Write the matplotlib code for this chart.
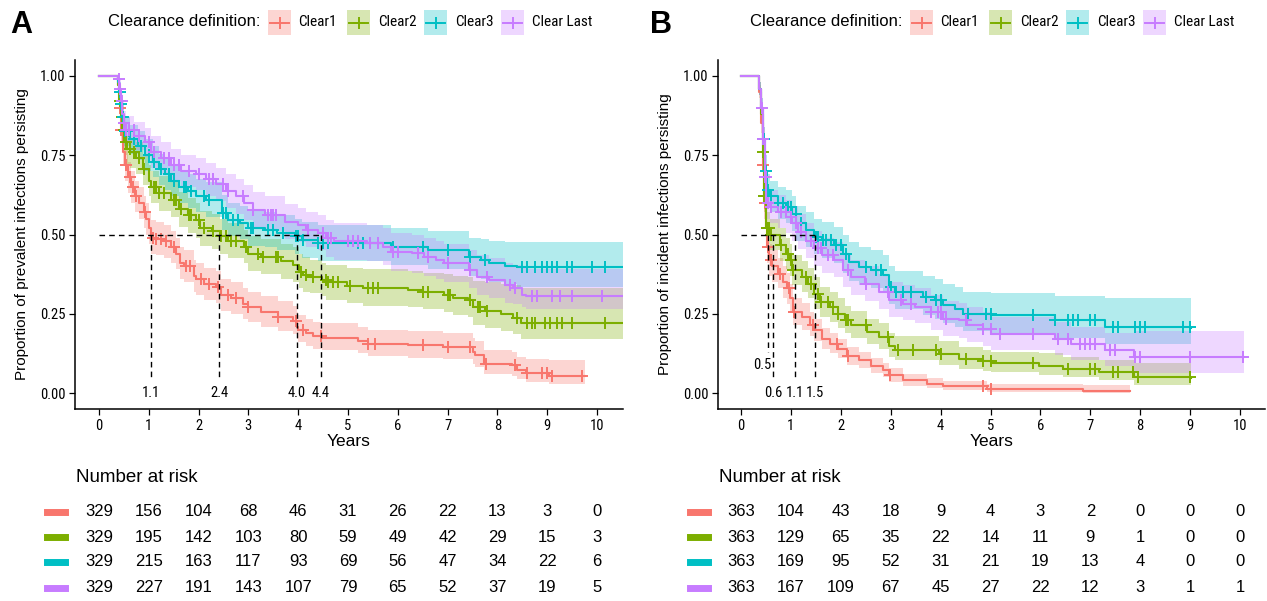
import os
import matplotlib
matplotlib.use("Agg")
import matplotlib.pyplot as plt
import matplotlib.transforms as mtransforms
from matplotlib import font_manager
from matplotlib.font_manager import FontProperties
from matplotlib.patches import Rectangle
from matplotlib.lines import Line2D
import numpy as np

W, H = 1267, 601

plt.rcParams['font.family'] = ['Liberation Sans', 'DejaVu Sans']

# the tick labels in the original are set in a narrow face; use one if there is any
cond_file, cond_size = None, 9
font_files = [f.fname for f in font_manager.fontManager.ttflist]
for key, size in [('liberationsansnarrow-regular', 11), ('robotocondensed-regular', 10.5),
                  ('robotocondensed[', 10.5), ('dejavusanscondensed.ttf', 9.5)]:
    hits = [fn for fn in font_files if key in os.path.basename(fn).lower()]
    if hits:
        cond_file, cond_size = hits[0], size
        break


def narrow(size=None):
    size = size or cond_size
    if cond_file:
        return FontProperties(fname=cond_file, size=size)
    return FontProperties(family=['Liberation Sans', 'DejaVu Sans'], size=size * 0.9)


groups = ['Clear1', 'Clear2', 'Clear3', 'Clear Last']
colors = ['#F8766D', '#7CAE00', '#00BFC4', '#C77CFF']
years = list(range(11))

# ---------- panel A: prevalent infections ----------
a1_t = [0, 0.38, 0.42, 0.45, 0.48, 0.52, 0.58, 0.65, 0.72, 0.80, 0.90, 0.95, 1.00, 1.05, 1.15, 1.30, 1.45, 1.55, 1.62, 1.70, 1.90, 1.95, 2.10, 2.35, 2.45, 2.65, 2.90, 3.00, 3.25, 3.60, 3.90, 3.97, 4.00, 4.15, 4.30, 4.48, 5.20, 5.40, 6.20, 6.90, 7.50, 7.55, 7.72, 8.30, 8.40, 8.57, 9.03, 9.76]
a1_s = [1.00, 0.97, 0.90, 0.83, 0.76, 0.72, 0.68, 0.65, 0.62, 0.60, 0.57, 0.55, 0.52, 0.49, 0.485, 0.478, 0.46, 0.44, 0.41, 0.40, 0.37, 0.36, 0.345, 0.333, 0.31, 0.30, 0.28, 0.27, 0.256, 0.24, 0.228, 0.21, 0.20, 0.19, 0.18, 0.175, 0.165, 0.156, 0.151, 0.146, 0.13, 0.12, 0.093, 0.088, 0.072, 0.063, 0.054, 0.054]
a1_lo = [1.00, 0.95, 0.87, 0.79, 0.72, 0.67, 0.63, 0.60, 0.57, 0.55, 0.52, 0.50, 0.47, 0.44, 0.435, 0.425, 0.41, 0.39, 0.36, 0.35, 0.32, 0.31, 0.295, 0.285, 0.26, 0.25, 0.235, 0.225, 0.21, 0.195, 0.185, 0.17, 0.16, 0.15, 0.14, 0.135, 0.125, 0.118, 0.112, 0.107, 0.093, 0.083, 0.06, 0.055, 0.043, 0.036, 0.028, 0.028]
a1_hi = [1.00, 0.99, 0.93, 0.87, 0.81, 0.77, 0.73, 0.70, 0.67, 0.65, 0.62, 0.60, 0.57, 0.545, 0.54, 0.53, 0.51, 0.49, 0.46, 0.45, 0.42, 0.41, 0.395, 0.385, 0.36, 0.35, 0.33, 0.32, 0.305, 0.29, 0.275, 0.255, 0.245, 0.235, 0.225, 0.22, 0.21, 0.20, 0.195, 0.19, 0.175, 0.165, 0.135, 0.13, 0.115, 0.108, 0.105, 0.105]
a1_cens = [0.42, 0.45, 0.47, 0.55, 0.62, 0.68, 0.75, 0.93, 1.08, 1.15, 1.25, 1.35, 1.5, 1.75, 1.82, 2.05, 2.2, 2.4, 2.6, 2.75, 3.0, 3.6, 3.95, 4.1, 4.45, 5.4, 5.55, 6.5, 7.0, 7.45, 7.78, 8.35, 8.6, 8.9, 9.0, 9.1, 9.7]

a2_t = [0, 0.38, 0.41, 0.44, 0.47, 0.51, 0.57, 0.63, 0.75, 0.88, 1.00, 1.04, 1.20, 1.45, 1.61, 1.78, 1.94, 2.02, 2.27, 2.43, 2.60, 2.92, 3.00, 3.25, 3.66, 3.90, 4.02, 4.10, 4.23, 4.48, 4.56, 4.97, 5.30, 6.20, 6.50, 6.93, 7.10, 7.40, 7.50, 7.75, 8.07, 8.32, 8.48, 10.52]
a2_s = [1.00, 0.97, 0.92, 0.87, 0.83, 0.79, 0.77, 0.76, 0.74, 0.705, 0.67, 0.65, 0.63, 0.61, 0.58, 0.56, 0.546, 0.52, 0.51, 0.494, 0.478, 0.462, 0.44, 0.43, 0.415, 0.404, 0.383, 0.372, 0.367, 0.357, 0.35, 0.338, 0.33, 0.325, 0.32, 0.31, 0.30, 0.295, 0.27, 0.26, 0.25, 0.238, 0.222, 0.222]
a2_lo = [1.00, 0.95, 0.89, 0.83, 0.79, 0.75, 0.72, 0.71, 0.69, 0.655, 0.62, 0.60, 0.575, 0.555, 0.525, 0.505, 0.49, 0.465, 0.455, 0.44, 0.425, 0.41, 0.385, 0.375, 0.36, 0.35, 0.33, 0.32, 0.315, 0.305, 0.295, 0.285, 0.275, 0.27, 0.265, 0.255, 0.245, 0.24, 0.215, 0.205, 0.195, 0.185, 0.17, 0.17]
a2_hi = [1.00, 0.99, 0.95, 0.91, 0.87, 0.83, 0.81, 0.80, 0.79, 0.755, 0.72, 0.70, 0.685, 0.665, 0.635, 0.615, 0.60, 0.575, 0.565, 0.55, 0.535, 0.515, 0.495, 0.485, 0.47, 0.46, 0.44, 0.43, 0.42, 0.41, 0.405, 0.395, 0.39, 0.385, 0.38, 0.375, 0.37, 0.365, 0.355, 0.35, 0.345, 0.34, 0.33, 0.33]
a2_cens = [0.43, 0.46, 0.5, 0.55, 0.62, 0.7, 0.8, 0.9, 1.1, 1.15, 1.2, 1.3, 1.5, 1.55, 1.65, 1.8, 1.85, 2.0, 2.1, 2.3, 2.45, 2.55, 2.65, 2.75, 2.95, 3.2, 3.3, 3.55, 3.6, 4.05, 4.15, 4.3, 4.55, 4.6, 4.7, 4.8, 5.05, 5.4, 5.5, 5.6, 6.5, 6.6, 7.0, 7.05, 7.45, 7.6, 7.65, 7.8, 8.4, 8.6, 8.7, 8.75, 8.95, 9.05, 9.2, 9.3, 9.5, 10.15]

a3_t = [0, 0.38, 0.41, 0.44, 0.47, 0.51, 0.63, 0.79, 0.92, 1.08, 1.20, 1.33, 1.45, 1.61, 1.78, 1.94, 2.14, 2.47, 2.60, 2.84, 3.00, 3.33, 3.58, 3.94, 4.07, 4.39, 5.87, 6.60, 7.42, 7.67, 7.83, 8.16, 8.40, 10.52]
a3_s = [1.00, 0.98, 0.95, 0.91, 0.87, 0.825, 0.80, 0.78, 0.75, 0.73, 0.705, 0.69, 0.67, 0.65, 0.637, 0.62, 0.61, 0.567, 0.546, 0.536, 0.52, 0.515, 0.504, 0.494, 0.483, 0.473, 0.462, 0.452, 0.43, 0.42, 0.41, 0.40, 0.398, 0.398]
a3_lo = [1.00, 0.96, 0.92, 0.88, 0.83, 0.78, 0.755, 0.735, 0.70, 0.68, 0.655, 0.64, 0.62, 0.60, 0.585, 0.57, 0.555, 0.515, 0.495, 0.485, 0.465, 0.46, 0.45, 0.44, 0.425, 0.415, 0.405, 0.39, 0.37, 0.36, 0.35, 0.345, 0.335, 0.335]
a3_hi = [1.00, 1.00, 0.98, 0.95, 0.91, 0.87, 0.845, 0.825, 0.80, 0.78, 0.755, 0.74, 0.72, 0.70, 0.69, 0.675, 0.665, 0.625, 0.60, 0.59, 0.575, 0.57, 0.56, 0.55, 0.54, 0.53, 0.52, 0.51, 0.49, 0.485, 0.48, 0.475, 0.475, 0.475]
a3_cens = [0.43, 0.45, 0.48, 0.52, 0.6, 0.7, 0.85, 1.0, 1.1, 1.25, 1.4, 1.5, 1.7, 1.75, 1.85, 2.1, 2.2, 2.5, 2.55, 2.7, 2.8, 3.05, 3.1, 3.4, 3.5, 3.7, 3.95, 4.0, 4.1, 4.4, 4.5, 4.6, 5.2, 5.3, 5.45, 5.9, 6.5, 7.0, 7.45, 7.75, 8.5, 8.6, 8.75, 8.9, 9.0, 9.1, 9.2, 9.4, 9.5, 9.9, 10.15]

a4_t = [0, 0.38, 0.41, 0.44, 0.47, 0.50, 0.55, 0.71, 0.92, 1.04, 1.24, 1.45, 1.65, 1.94, 2.14, 2.35, 2.55, 2.76, 2.92, 3.09, 3.33, 3.74, 3.99, 4.15, 4.39, 4.56, 4.72, 5.38, 5.70, 5.87, 6.28, 6.52, 6.77, 6.93, 7.42, 7.59, 7.83, 8.16, 8.32, 8.49, 8.57, 10.52]
a4_s = [1.00, 0.99, 0.96, 0.92, 0.88, 0.85, 0.83, 0.81, 0.79, 0.76, 0.74, 0.72, 0.70, 0.69, 0.674, 0.658, 0.637, 0.62, 0.60, 0.578, 0.562, 0.54, 0.53, 0.515, 0.504, 0.488, 0.478, 0.473, 0.462, 0.446, 0.441, 0.43, 0.42, 0.41, 0.388, 0.367, 0.357, 0.34, 0.33, 0.31, 0.305, 0.305]
a4_lo = [1.00, 0.97, 0.93, 0.89, 0.84, 0.81, 0.785, 0.765, 0.745, 0.71, 0.69, 0.67, 0.65, 0.64, 0.62, 0.605, 0.585, 0.565, 0.545, 0.525, 0.51, 0.485, 0.475, 0.46, 0.45, 0.43, 0.42, 0.415, 0.405, 0.385, 0.38, 0.37, 0.36, 0.35, 0.33, 0.31, 0.30, 0.285, 0.28, 0.27, 0.265, 0.265]
a4_hi = [1.00, 1.00, 0.99, 0.95, 0.92, 0.89, 0.875, 0.855, 0.835, 0.81, 0.79, 0.77, 0.75, 0.74, 0.725, 0.71, 0.69, 0.675, 0.655, 0.635, 0.62, 0.595, 0.585, 0.57, 0.56, 0.545, 0.535, 0.53, 0.52, 0.505, 0.50, 0.49, 0.48, 0.47, 0.45, 0.435, 0.425, 0.41, 0.405, 0.395, 0.39, 0.39]
a4_cens = [0.40, 0.43, 0.46, 0.5, 0.55, 0.6, 0.7, 0.8, 1.0, 1.1, 1.3, 1.4, 1.5, 1.6, 1.8, 2.0, 2.2, 2.3, 2.5, 2.6, 2.9, 3.1, 3.4, 3.45, 3.5, 3.55, 4.2, 4.5, 4.6, 4.65, 5.0, 5.1, 5.2, 5.45, 5.6, 5.9, 6.0, 6.4, 6.6, 7.0, 7.45, 7.8, 8.25, 8.35, 8.7, 8.8, 9.1, 9.25, 9.5, 10.1]

a_medians = [1.05, 2.42, 3.97, 4.45]
a_median_labels = ['1.1', '2.4', '4.0', '4.4']
a_risk = [
    [329, 156, 104, 68, 46, 31, 26, 22, 13, 3, 0],
    [329, 195, 142, 103, 80, 59, 49, 42, 29, 15, 3],
    [329, 215, 163, 117, 93, 69, 56, 47, 34, 22, 6],
    [329, 227, 191, 143, 107, 79, 65, 52, 37, 19, 5],
]

# ---------- panel B: incident infections ----------
b1_t = [0, 0.36, 0.40, 0.44, 0.47, 0.50, 0.53, 0.56, 0.62, 0.75, 0.85, 0.92, 0.99, 1.05, 1.23, 1.39, 1.47, 1.63, 1.79, 1.95, 2.12, 2.36, 2.60, 2.84, 2.96, 3.24, 3.72, 4.05, 4.93, 6.86, 7.42, 7.80]
b1_s = [1.0, 0.95, 0.85, 0.72, 0.60, 0.52, 0.46, 0.42, 0.40, 0.377, 0.35, 0.33, 0.30, 0.256, 0.24, 0.214, 0.198, 0.17, 0.156, 0.14, 0.116, 0.103, 0.087, 0.072, 0.056, 0.04, 0.029, 0.021, 0.014, 0.008, 0.006, 0.006]
b1_lo = [1.0, 0.93, 0.82, 0.68, 0.55, 0.47, 0.41, 0.37, 0.35, 0.33, 0.30, 0.28, 0.26, 0.215, 0.20, 0.18, 0.165, 0.14, 0.125, 0.11, 0.09, 0.078, 0.064, 0.05, 0.036, 0.024, 0.015, 0.01, 0.005, 0.002, 0.001, 0.001]
b1_hi = [1.0, 0.97, 0.88, 0.76, 0.65, 0.57, 0.51, 0.47, 0.45, 0.425, 0.40, 0.38, 0.345, 0.30, 0.285, 0.255, 0.235, 0.205, 0.19, 0.17, 0.145, 0.13, 0.112, 0.095, 0.078, 0.06, 0.048, 0.038, 0.03, 0.026, 0.026, 0.026]
b1_cens = [0.45, 0.48, 0.52, 0.55, 0.6, 0.78, 0.97, 1.07, 1.45, 1.93, 2.15, 2.98, 4.85, 5.0]

b2_t = [0, 0.36, 0.40, 0.44, 0.47, 0.51, 0.59, 0.79, 0.91, 0.99, 1.03, 1.23, 1.35, 1.47, 1.59, 1.79, 1.95, 2.08, 2.20, 2.52, 2.76, 2.96, 3.08, 3.97, 4.37, 4.85, 5.01, 5.98, 6.46, 7.18, 7.87, 9.02]
b2_s = [1.0, 0.96, 0.88, 0.76, 0.62, 0.52, 0.50, 0.466, 0.44, 0.42, 0.387, 0.366, 0.345, 0.314, 0.287, 0.27, 0.25, 0.23, 0.214, 0.193, 0.177, 0.15, 0.137, 0.124, 0.108, 0.10, 0.095, 0.087, 0.077, 0.066, 0.05, 0.048]
b2_lo = [1.0, 0.94, 0.85, 0.72, 0.57, 0.47, 0.45, 0.415, 0.39, 0.37, 0.34, 0.32, 0.30, 0.265, 0.24, 0.225, 0.205, 0.19, 0.175, 0.155, 0.14, 0.115, 0.103, 0.09, 0.077, 0.07, 0.066, 0.058, 0.05, 0.04, 0.027, 0.025]
b2_hi = [1.0, 0.98, 0.91, 0.80, 0.67, 0.57, 0.55, 0.52, 0.49, 0.47, 0.435, 0.415, 0.395, 0.365, 0.335, 0.32, 0.30, 0.275, 0.26, 0.235, 0.22, 0.19, 0.18, 0.165, 0.145, 0.135, 0.13, 0.125, 0.115, 0.105, 0.095, 0.092]
b2_cens = [0.44, 0.47, 0.5, 0.53, 0.57, 0.6, 0.8, 0.95, 1.0, 1.05, 1.3, 1.4, 1.55, 1.6, 1.75, 1.85, 1.95, 2.1, 2.15, 2.5, 2.95, 3.15, 3.45, 3.9, 4.0, 4.5, 4.85, 5.0, 5.85, 6.55, 7.0, 7.1, 7.45, 7.55, 7.85, 7.95, 9.0]

b3_t = [0, 0.36, 0.40, 0.44, 0.48, 0.52, 0.59, 0.75, 0.91, 1.03, 1.11, 1.31, 1.47, 1.63, 1.87, 2.04, 2.16, 2.36, 2.60, 2.84, 2.96, 3.08, 3.64, 3.89, 4.05, 4.29, 4.45, 5.01, 6.30, 7.30, 9.02]
b3_s = [1.0, 0.96, 0.90, 0.80, 0.70, 0.64, 0.62, 0.60, 0.587, 0.566, 0.535, 0.514, 0.493, 0.482, 0.466, 0.44, 0.414, 0.398, 0.387, 0.372, 0.335, 0.319, 0.303, 0.293, 0.277, 0.266, 0.25, 0.245, 0.23, 0.208, 0.206]
b3_lo = [1.0, 0.94, 0.87, 0.76, 0.65, 0.59, 0.57, 0.55, 0.535, 0.51, 0.48, 0.46, 0.44, 0.425, 0.41, 0.38, 0.355, 0.34, 0.33, 0.315, 0.28, 0.265, 0.245, 0.235, 0.22, 0.21, 0.195, 0.19, 0.175, 0.155, 0.152]
b3_hi = [1.0, 0.98, 0.93, 0.84, 0.75, 0.69, 0.67, 0.65, 0.64, 0.62, 0.59, 0.57, 0.55, 0.54, 0.525, 0.50, 0.475, 0.46, 0.45, 0.435, 0.40, 0.385, 0.37, 0.36, 0.345, 0.335, 0.32, 0.315, 0.305, 0.30, 0.298]
b3_cens = [0.45, 0.47, 0.5, 0.55, 0.6, 0.75, 0.85, 0.95, 1.0, 1.1, 1.2, 1.5, 1.55, 1.65, 1.7, 1.8, 1.9, 2.0, 2.1, 2.5, 2.7, 2.8, 3.0, 3.1, 3.25, 3.4, 3.7, 3.9, 4.0, 4.55, 4.9, 5.0, 5.85, 6.3, 6.55, 6.65, 6.75, 7.0, 7.1, 7.45, 7.55, 7.9, 8.0, 8.1, 8.85, 9.0]

b4_t = [0, 0.36, 0.40, 0.44, 0.48, 0.51, 0.59, 0.75, 0.91, 1.03, 1.15, 1.31, 1.47, 1.63, 1.87, 2.04, 2.20, 2.48, 2.76, 2.96, 3.24, 3.48, 3.80, 4.05, 4.37, 4.53, 4.85, 5.01, 6.30, 6.62, 7.30, 7.87, 10.08]
b4_s = [1.0, 0.96, 0.90, 0.80, 0.68, 0.60, 0.587, 0.57, 0.556, 0.535, 0.508, 0.48, 0.456, 0.435, 0.419, 0.387, 0.366, 0.345, 0.319, 0.293, 0.282, 0.272, 0.256, 0.235, 0.229, 0.214, 0.203, 0.187, 0.172, 0.156, 0.135, 0.114, 0.114]
b4_lo = [1.0, 0.94, 0.87, 0.76, 0.63, 0.55, 0.535, 0.52, 0.505, 0.48, 0.455, 0.425, 0.40, 0.38, 0.365, 0.335, 0.31, 0.29, 0.265, 0.24, 0.23, 0.22, 0.20, 0.18, 0.175, 0.16, 0.15, 0.135, 0.12, 0.105, 0.085, 0.065, 0.065]
b4_hi = [1.0, 0.98, 0.93, 0.84, 0.73, 0.65, 0.64, 0.625, 0.61, 0.59, 0.565, 0.535, 0.51, 0.49, 0.475, 0.44, 0.42, 0.40, 0.375, 0.35, 0.34, 0.33, 0.31, 0.29, 0.285, 0.27, 0.255, 0.24, 0.225, 0.21, 0.19, 0.195, 0.195]
b4_cens = [0.42, 0.45, 0.48, 0.5, 0.55, 0.6, 0.8, 0.9, 1.0, 1.1, 1.2, 1.4, 1.55, 1.6, 1.75, 1.85, 2.15, 2.5, 2.95, 3.2, 3.4, 3.8, 3.95, 4.0, 4.1, 4.5, 4.85, 5.0, 5.2, 5.85, 6.35, 6.55, 6.8, 6.9, 7.0, 7.1, 7.4, 7.5, 7.9, 8.0, 9.0, 10.05]

b_medians = [0.54, 0.64, 1.09, 1.49]
b_median_labels = ['0.5', '0.6', '1.1', '1.5']
b_risk = [
    [363, 104, 43, 18, 9, 4, 3, 2, 0, 0, 0],
    [363, 129, 65, 35, 22, 14, 11, 9, 1, 0, 0],
    [363, 169, 95, 52, 31, 21, 19, 13, 4, 0, 0],
    [363, 167, 109, 67, 45, 27, 22, 12, 3, 1, 1],
]

a_curves = [(a1_t, a1_s, a1_lo, a1_hi, a1_cens), (a2_t, a2_s, a2_lo, a2_hi, a2_cens),
            (a3_t, a3_s, a3_lo, a3_hi, a3_cens), (a4_t, a4_s, a4_lo, a4_hi, a4_cens)]
b_curves = [(b1_t, b1_s, b1_lo, b1_hi, b1_cens), (b2_t, b2_s, b2_lo, b2_hi, b2_cens),
            (b3_t, b3_s, b3_lo, b3_hi, b3_cens), (b4_t, b4_s, b4_lo, b4_hi, b4_cens)]


def fx(px):
    return px / W


def fy(py):
    return 1 - py / H


def draw_panel(box, xlim, curves, medians, med_labels, med_label_pos, med_end, ylabel):
    l, t, r, b = box
    ax = fig.add_axes([fx(l), fy(b), fx(r - l), (b - t) / H])
    for (tt, ss, lo, hi, cens), c in zip(curves, colors):
        ax.fill_between(tt, lo, hi, step='post', color=c, alpha=0.3, lw=0)
    for (tt, ss, lo, hi, cens), c in zip(curves, colors):
        ax.step(tt, ss, where='post', color=c, lw=1.5)
        idx = np.searchsorted(tt, cens, side='right') - 1
        ax.plot(cens, np.array(ss)[idx], ls='none', marker='+', ms=9, mew=1.4, color=c)
    ax.plot([0, max(medians)], [0.5, 0.5], ls=(0, (4, 3)), color='black', lw=1)
    for m, lab, (lx, ly), le in zip(medians, med_labels, med_label_pos, med_end):
        ax.plot([m, m], [0.5, le], ls=(0, (4, 3)), color='black', lw=1)
        ax.text(lx, ly, lab, ha='center', va='center', fontproperties=narrow())
    ax.set_xlim(*xlim)
    ax.set_ylim(-0.05, 1.05)
    ax.set_xticks(years)
    ax.set_yticks([0, 0.25, 0.5, 0.75, 1.0])
    ax.set_yticklabels(['0.00', '0.25', '0.50', '0.75', '1.00'])
    for s in ['top', 'right']:
        ax.spines[s].set_visible(False)
    for s in ['left', 'bottom']:
        ax.spines[s].set_linewidth(1.1)
    ax.tick_params(length=4, width=0.9, pad=3)
    for lab in ax.get_xticklabels() + ax.get_yticklabels():
        lab.set_fontproperties(narrow())
    ax.set_xlabel('Years', fontsize=12.5, labelpad=1)
    ax.set_ylabel(ylabel, fontsize=11, labelpad=8)
    return ax


def draw_risk(ax, left_px, risk):
    trans = mtransforms.blended_transform_factory(ax.transData, fig.transFigure)
    fig.text(fx(left_px + 29), fy(477), 'Number at risk', fontsize=13.5, va='center', ha='left')
    for row, c, py in zip(risk, colors, [512, 537, 562, 588]):
        fig.add_artist(Line2D([fx(left_px), fx(left_px + 18)], [fy(py), fy(py)],
                              color=c, lw=5, transform=fig.transFigure))
        for yr, n in zip(years, row):
            fig.text(yr, fy(py), str(n), transform=trans, ha='center', va='center', fontsize=12)


def draw_legend(x0):
    fig.text(fx(x0), fy(22), 'Clearance definition:', fontsize=12, va='center', ha='left')
    keys = [160, 239, 316, 393]
    texts = [190, 270, 347, 424]
    for g, c, k, tx in zip(groups, colors, keys, texts):
        fig.add_artist(Rectangle((fx(x0 + k), fy(35)), 23 / W, 25 / H, transform=fig.transFigure,
                                 facecolor=c, alpha=0.3, edgecolor='none'))
        fig.add_artist(Line2D([fx(x0 + k + 2), fx(x0 + k + 21)], [fy(22.5), fy(22.5)],
                              color=c, lw=1.4, transform=fig.transFigure))
        fig.add_artist(Line2D([fx(x0 + k + 11.5)], [fy(22.5)], color=c, marker='+', ms=9, mew=1.4,
                              transform=fig.transFigure))
        fig.text(fx(x0 + tx), fy(22), g, va='center', ha='left', fontproperties=narrow(cond_size + 0.5))


fig = plt.figure(figsize=(W / 100, H / 100), dpi=100)

ax_a = draw_panel((75, 60, 623, 409), (-0.48, 10.52), a_curves, a_medians, a_median_labels,
                  [(m, 0.0) for m in a_medians], [0.05] * 4,
                  'Proportion of prevalent infections persisting')
ax_b = draw_panel((718, 60, 1265, 409), (-0.46, 10.5), b_curves, b_medians, b_median_labels,
                  [(0.42, 0.09), (0.64, 0.0), (1.09, 0.0), (1.49, 0.0)], [0.13, 0.05, 0.05, 0.05],
                  'Proportion of incident infections persisting')

draw_risk(ax_a, 47, a_risk)
draw_risk(ax_b, 690, b_risk)

draw_legend(108)
draw_legend(750)

fig.text(fx(10), fy(25), 'A', fontsize=22, fontweight='bold', va='center', ha='left')
fig.text(fx(650), fy(25), 'B', fontsize=22, fontweight='bold', va='center', ha='left')

fig.savefig('out.png', dpi=100)
